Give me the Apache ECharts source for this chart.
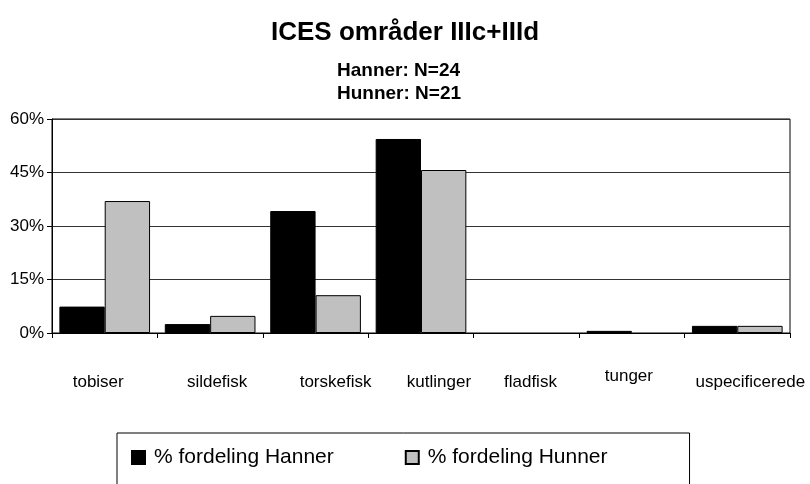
<!DOCTYPE html>
<html>
<head>
<meta charset="utf-8">
<script src="https://cdn.jsdelivr.net/npm/echarts@6/dist/echarts.min.js"></script>
<style>
  html, body { margin: 0; padding: 0; background: #fff; }
  #plot { width: 810px; height: 484px; }
</style>
</head>
<body>
<div id="plot"></div>
<script>
"use strict";

var categories = ['tobiser', 'sildefisk', 'torskefisk', 'kutlinger', 'fladfisk', 'tunger', 'uspecificerede'];
var hanner = [7.4, 2.5, 34.2, 54.4, 0, 0.6, 2.0];
var hunner = [37.0, 4.8, 10.6, 45.7, 0, 0, 2.0];
var yTicks = [0, 15, 30, 45, 60];

var font = 'Liberation Sans, Arial, sans-serif';

// Label nudges as seen in the reference (Excel layout quirks): [top, right, bottom, left]
var labelPad = {
  tobiser: [6, 13, 0, 0],
  sildefisk: [6, 0, 0, 14],
  torskefisk: [6, 0, 0, 40],
  kutlinger: [6, 0, 0, 36],
  fladfisk: [6, 0, 0, 8],
  tunger: [0, 6, 0, 0],
  uspecificerede: [6, 0, 0, 26]
};
var catData = categories.map(function (c) {
  return { value: c, textStyle: { padding: labelPad[c] } };
});

// Zero values get no outline, so no flat line is drawn for them.
function barData(values) {
  return values.map(function (v) {
    return v === 0 ? { value: v, itemStyle: { borderWidth: 0 } } : v;
  });
}

var chart = echarts.init(document.getElementById('plot'));
chart.setOption({
  backgroundColor: '#fff',
  animation: false,
  title: [{
    text: 'ICES områder IIIc+IIId',
    left: 'center',
    top: 15,
    textStyle: { fontFamily: font, fontSize: 26, fontWeight: 'bold', color: '#000' }
  }, {
    text: 'Hanner: N=24\nHunner: N=21',
    left: 332,
    top: 54,
    textStyle: { fontFamily: font, fontSize: 19, fontWeight: 'bold', color: '#000', lineHeight: 23 }
  }],
  legend: {
    left: 117,
    top: 433,
    padding: [14, 82, 28, 14],
    borderColor: '#000',
    borderWidth: 1,
    itemWidth: 13,
    itemHeight: 13,
    itemGap: 71,
    icon: 'rect',
    textStyle: { fontFamily: font, fontSize: 21, color: '#000', padding: [0, 0, 0, 4] },
    data: ['% fordeling Hanner', '% fordeling Hunner']
  },
  grid: {
    left: 52, right: 20, top: 119, bottom: 151,
    outerBoundsMode: 'none',
    containLabel: false,
    show: true, borderColor: '#000', borderWidth: 1
  },
  xAxis: {
    type: 'category',
    data: catData,
    axisLine: { lineStyle: { color: '#000' } },
    axisTick: { show: true, length: 5, lineStyle: { color: '#000' } },
    axisLabel: { fontFamily: font, fontSize: 17, color: '#000', margin: 35, interval: 0 }
  },
  yAxis: {
    type: 'value',
    min: yTicks[0],
    max: yTicks[yTicks.length - 1],
    interval: 15,
    axisLine: { show: true, lineStyle: { color: '#000' } },
    axisTick: { show: true, length: 5, lineStyle: { color: '#000' } },
    axisLabel: { fontFamily: font, fontSize: 17, color: '#000', margin: 8, formatter: '{value}%' },
    splitLine: { lineStyle: { color: '#333', width: 1 } }
  },
  series: [{
    name: '% fordeling Hanner',
    type: 'bar',
    data: barData(hanner),
    barGap: '0%',
    barCategoryGap: '14%',
    itemStyle: { color: '#000', borderColor: '#000', borderWidth: 1 }
  }, {
    name: '% fordeling Hunner',
    type: 'bar',
    data: barData(hunner),
    itemStyle: { color: '#c0c0c0', borderColor: '#000', borderWidth: 1 }
  }]
});
</script>
</body>
</html>
